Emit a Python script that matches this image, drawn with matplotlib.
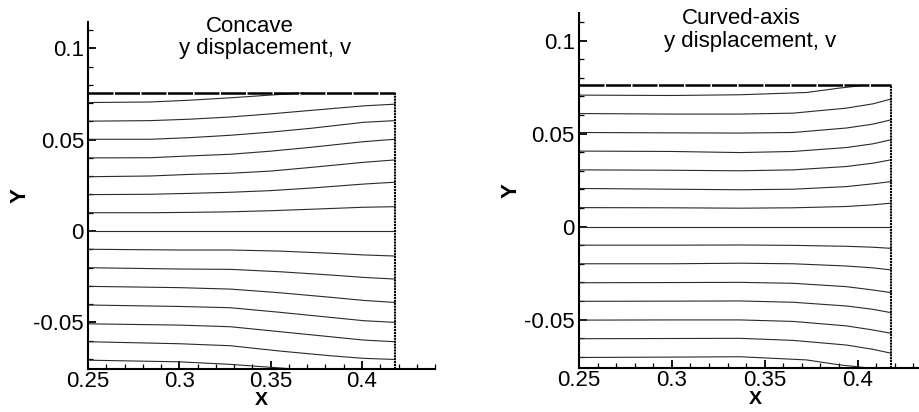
import numpy as np
import matplotlib.pyplot as plt
from matplotlib.ticker import MultipleLocator, FormatStrFormatter

plt.rcParams['font.family'] = ['Liberation Sans', 'DejaVu Sans']
plt.rcParams['axes.unicode_minus'] = False

####  Donnees  ####
# limite droite du domaine
x_bord = 0.418

# --- Concave ---
# moitie haute (lignes 0.06 -> 0.01)
concave_x_haut = [0.25, 0.284, 0.306, 0.328, 0.350, 0.372, 0.401, 0.418]
concave_lignes_haut = [
    [0.0601, 0.0604, 0.0612, 0.0624, 0.0641, 0.0660, 0.0685, 0.0694],
    [0.0502, 0.0502, 0.0511, 0.0524, 0.0541, 0.0562, 0.0595, 0.0604],
    [0.0400, 0.0401, 0.0411, 0.0420, 0.0437, 0.0458, 0.0489, 0.0502],
    [0.0297, 0.0301, 0.0310, 0.0316, 0.0328, 0.0348, 0.0376, 0.0389],
    [0.0199, 0.0201, 0.0206, 0.0212, 0.0221, 0.0235, 0.0257, 0.0267],
    [0.0100, 0.0100, 0.0102, 0.0105, 0.0111, 0.0119, 0.0130, 0.0133],
    [0.0, 0.0, 0.0, 0.0, 0.0, 0.0, 0.0, 0.0],
]
# moitie basse (lignes -0.01 -> -0.06)
concave_x_bas = [0.25, 0.30, 0.328, 0.355, 0.383, 0.401, 0.418]
concave_lignes_bas = [
    [-0.0100, -0.0104, -0.0104, -0.0110, -0.0122, -0.0131, -0.0137],
    [-0.0201, -0.0208, -0.0210, -0.0223, -0.0241, -0.0254, -0.0263],
    [-0.0303, -0.0310, -0.0318, -0.0338, -0.0363, -0.0380, -0.0391],
    [-0.0405, -0.0413, -0.0420, -0.0445, -0.0473, -0.0491, -0.0500],
    [-0.0508, -0.0515, -0.0524, -0.0551, -0.0579, -0.0597, -0.0606],
    [-0.0606, -0.0617, -0.0628, -0.0657, -0.0683, -0.0697, -0.0703],
]
concave_haut_x = [0.25, 0.284, 0.306, 0.328, 0.350, 0.368]
concave_haut_y = [0.0703, 0.0706, 0.0716, 0.0729, 0.0744, 0.0756]
concave_bas_x = [0.25, 0.30, 0.328, 0.364, 0.373]
concave_bas_y = [-0.0707, -0.0716, -0.0730, -0.0756, -0.0756]
concave_ymax = 0.0756
concave_ylim = (-0.0757, 0.1142)

# --- Curved-axis ---
courbe_x = [0.25, 0.30, 0.3366, 0.3652, 0.3939, 0.4082, 0.418]
courbe_lignes = [
    [0.0608, 0.0605, 0.0605, 0.0610, 0.0637, 0.0660, 0.0686],
    [0.0506, 0.0504, 0.0503, 0.0506, 0.0530, 0.0551, 0.0574],
    [0.0406, 0.0404, 0.0398, 0.0404, 0.0425, 0.0445, 0.0467],
    [0.0305, 0.0303, 0.0300, 0.0305, 0.0323, 0.0341, 0.0359],
    [0.0205, 0.0201, 0.0198, 0.0201, 0.0215, 0.0230, 0.0242],
    [0.0102, 0.0101, 0.0099, 0.0101, 0.0108, 0.0117, 0.0126],
    [0.0, 0.0, 0.0, 0.0, 0.0, 0.0, 0.0],
    [-0.0100, -0.0100, -0.0099, -0.0101, -0.0106, -0.0111, -0.0117],
    [-0.0200, -0.0200, -0.0197, -0.0200, -0.0212, -0.0222, -0.0233],
    [-0.0302, -0.0301, -0.0300, -0.0305, -0.0323, -0.0341, -0.0355],
    [-0.0402, -0.0401, -0.0400, -0.0407, -0.0427, -0.0445, -0.0463],
    [-0.0503, -0.0502, -0.0502, -0.0510, -0.0534, -0.0556, -0.0574],
    [-0.0603, -0.0602, -0.0601, -0.0612, -0.0637, -0.0660, -0.0681],
]
courbe_haut_x = [0.25, 0.30, 0.3366, 0.3724, 0.3904, 0.4027]
courbe_haut_y = [0.0707, 0.0705, 0.0709, 0.0721, 0.0745, 0.0759]
courbe_bas_x = [0.25, 0.30, 0.3366, 0.3724, 0.3904, 0.4047, 0.408]
courbe_bas_y = [-0.0704, -0.0702, -0.0700, -0.0717, -0.0744, -0.0759, -0.0759]
courbe_ymax = 0.0759
courbe_ylim = (-0.0759, 0.1147)

x_ticks = [0.25, 0.3, 0.35, 0.4]
y_ticks = [-0.05, 0, 0.05, 0.1]
######################


fig = plt.figure(figsize=(9.2, 4.12), dpi=100)
ax1 = fig.add_axes([0.0957, 0.1036, 0.3772, 0.8422])
ax2 = fig.add_axes([0.6293, 0.1075, 0.3837, 0.8602])

taille = 16
couleur = '#2a2a2a'


def panneau(ax, groupes, hx, hy, bx, by, ymax, ylim):
    for xs, lignes in groupes:
        for yl in lignes:
            ax.plot(xs, yl, color=couleur, lw=0.8)
    ax.plot(hx, hy, color=couleur, lw=0.8)
    ax.plot(bx, by, color=couleur, lw=0.8)
    # bords du domaine
    ax.plot([0.25, x_bord], [ymax, ymax], color='k', lw=1.8, ls=(0, (10, 0.6)))
    ax.plot([x_bord, x_bord], [ylim[0], ymax], color='k', lw=1.5, ls=(0, (1, 0.4)))

    ax.set_xlim(0.25, 0.44)
    ax.set_ylim(*ylim)
    for s in ['top', 'right']:
        ax.spines[s].set_visible(False)
    for s in ['left', 'bottom']:
        ax.spines[s].set_linewidth(1.5)
    ax.set_xticks(x_ticks)
    ax.set_yticks(y_ticks)
    ax.xaxis.set_minor_locator(MultipleLocator(0.01))
    ax.yaxis.set_minor_locator(MultipleLocator(0.01))
    ax.xaxis.set_major_formatter(FormatStrFormatter('%g'))
    ax.yaxis.set_major_formatter(FormatStrFormatter('%g'))
    ax.tick_params(which='major', direction='in', length=6, width=1.3,
                   labelsize=taille, pad=3)
    ax.tick_params(axis='x', which='major', pad=1.5)
    ax.tick_params(which='minor', direction='in', length=3.5, width=0.9)
    ax.tick_params(top=False, right=False, which='both')
    ax.set_xlabel('X', fontsize=14, fontweight='bold', labelpad=0)
    ax.set_ylabel('Y', fontsize=taille, fontweight='bold', labelpad=2)


panneau(ax1, [(concave_x_haut, concave_lignes_haut), (concave_x_bas, concave_lignes_bas)],
        concave_haut_x, concave_haut_y, concave_bas_x, concave_bas_y,
        concave_ymax, concave_ylim)
panneau(ax2, [(courbe_x, courbe_lignes)],
        courbe_haut_x, courbe_haut_y, courbe_bas_x, courbe_bas_y,
        courbe_ymax, courbe_ylim)

# titres (positions en pixels depuis le haut)
H = 412.0
W = 920.0
fig.text(250 / W, 1 - 32 / H, 'Concave', fontsize=taille, ha='center', va='baseline')
fig.text(265 / W, 1 - 54 / H, 'y displacement, v', fontsize=taille, ha='center', va='baseline')
fig.text(741 / W, 1 - 23.5 / H, 'Curved-axis', fontsize=taille, ha='center', va='baseline')
fig.text(750 / W, 1 - 46.5 / H, 'y displacement, v', fontsize=taille, ha='center', va='baseline')

fig.savefig('out.png', dpi=100)
